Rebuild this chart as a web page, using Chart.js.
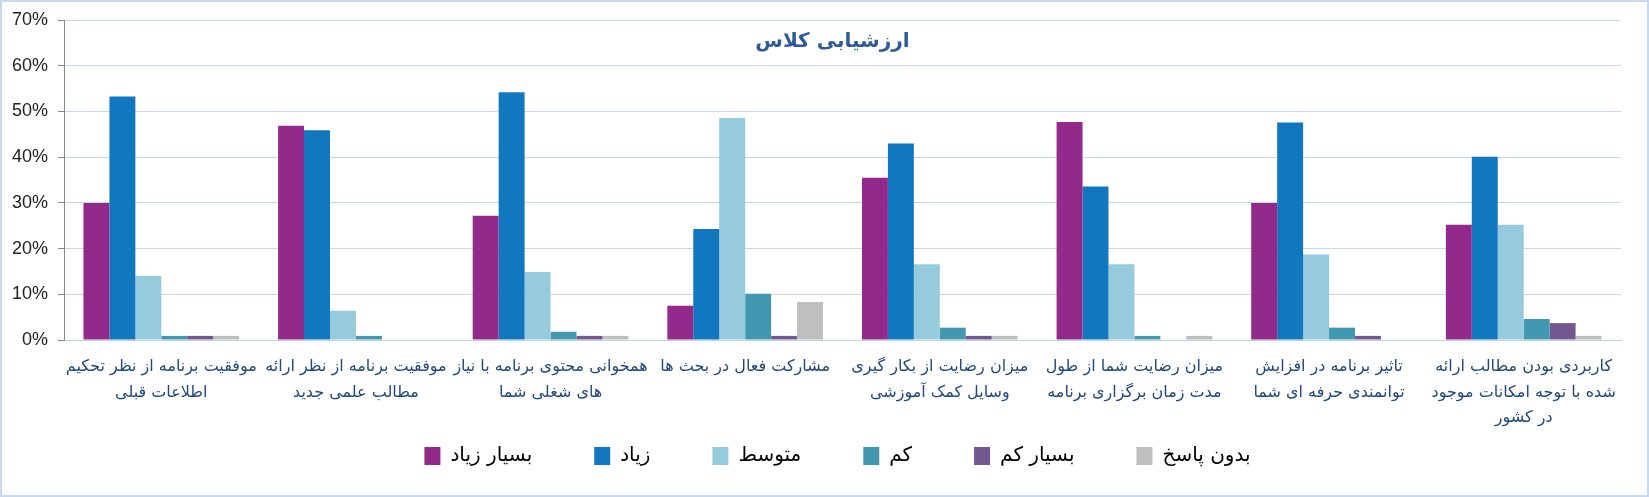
<!DOCTYPE html>
<html>
<head>
<meta charset="utf-8">
<script src="https://cdn.jsdelivr.net/npm/chart.js@4/dist/chart.umd.min.js"></script>
<style>
  html, body { margin: 0; padding: 0; background: #fff; }
  #wrap { width: 1649px; height: 497px; box-sizing: border-box; border: 2px solid #c6d9f1; background: #fff; }
  #wrap canvas { display: block; }
</style>
</head>
<body>
<div id="wrap"><canvas id="c" width="1645" height="493"></canvas></div>
<script>
const chartTitle = 'ارزشیابی کلاس';
const categories = [
  ['موفقیت برنامه از نظر تحکیم', 'اطلاعات قبلی'],
  ['موفقیت برنامه از نظر ارائه', 'مطالب علمی جدید'],
  ['همخوانی محتوی برنامه با نیاز', 'های شغلی شما'],
  ['مشارکت فعال در بحث ها'],
  ['میزان رضایت از بکار گیری', 'وسایل کمک آموزشی'],
  ['میزان رضایت شما از طول', 'مدت زمان برگزاری برنامه'],
  ['تاثیر برنامه در افزایش', 'توانمندی حرفه ای شما'],
  ['کاربردی بودن مطالب ارائه', 'شده با توجه امکانات موجود', 'در کشور']
];
const seriesNames = ['بسیار زیاد', 'زیاد', 'متوسط', 'کم', 'بسیار کم', 'بدون پاسخ'];
const veryHigh = [30.0, 46.9, 27.2, 7.5, 35.5, 47.7, 30.0, 25.2];
const high     = [53.3, 45.9, 54.2, 24.3, 43.0, 33.6, 47.6, 40.1];
const medium   = [14.0, 6.4, 14.9, 48.6, 16.6, 16.6, 18.7, 25.2];
const low      = [0.9, 0.9, 1.8, 10.1, 2.7, 0.9, 2.7, 4.6];
const veryLow  = [0.9, 0, 0.9, 0.9, 0.9, 0, 0.9, 3.7];
const noAnswer = [0.9, 0, 0.9, 8.3, 0.9, 0.9, 0, 0.9];
const yTicks = [0, 10, 20, 30, 40, 50, 60, 70];

const seriesData = [veryHigh, high, medium, low, veryLow, noAnswer];
const colors = ['#912a8a', '#1177bf', '#95cbdc', '#4298b0', '#725891', '#bfbfbf'];

const titlePlugin = {
  id: 'innerTitle',
  afterDraw(chart) {
    const { ctx, chartArea } = chart;
    ctx.save();
    ctx.font = 'bold 20px "DejaVu Sans", sans-serif';
    ctx.fillStyle = '#2f5b96';
    ctx.textAlign = 'center';
    ctx.textBaseline = 'middle';
    ctx.direction = 'rtl';
    ctx.fillText(chartTitle, (chartArea.left + chartArea.right) / 2 - 10, 40);
    ctx.restore();
  }
};

const legendPad = 62;
const legendBoxH = 38;
const legendShift = 26;

// keep wide horizontal spacing between legend items without a tall legend box
const legendPatch = {
  id: 'legendPatch',
  beforeLayout(chart) {
    const lg = chart.legend;
    if (!lg || lg._patched) return;
    const fit = lg.fit;
    lg.fit = function () { fit.call(this); this.height = legendBoxH; };
    const draw = lg.draw;
    lg.draw = function () {
      const t = this.top, l = this.left, r = this.right;
      this.top = t - (legendPad - 10);
      this.left = l + legendShift;
      this.right = r + legendShift;
      draw.call(this);
      this.top = t; this.left = l; this.right = r;
    };
    lg._patched = true;
  }
};

new Chart(document.getElementById('c'), {
  type: 'bar',
  data: {
    labels: categories,
    datasets: seriesNames.map((n, i) => ({
      label: n,
      data: seriesData[i],
      backgroundColor: colors[i],
      borderWidth: 0,
      categoryPercentage: 0.8,
      barPercentage: 1.0
    }))
  },
  options: {
    responsive: false,
    animation: false,
    devicePixelRatio: 1,
    layout: { padding: { top: 0, right: 26, bottom: 21, left: 0 } },
    plugins: {
      title: { display: false },
      tooltip: { enabled: false },
      legend: {
        position: 'bottom',
        rtl: false,
        labels: {
          boxWidth: 16,
          boxHeight: 18,
          padding: legendPad,
          color: '#000',
          font: { size: 20, family: '"DejaVu Sans", sans-serif' },
          generateLabels(chart) {
            return chart.data.datasets.map((ds, i) => ({
              text: ds.label,
              fillStyle: ds.backgroundColor,
              strokeStyle: ds.backgroundColor,
              lineWidth: 0,
              datasetIndex: i,
              hidden: false
            }));
          }
        }
      }
    },
    scales: {
      x: {
        grid: { display: false, drawTicks: false },
        border: { display: true, color: '#bcd4ee', width: 1 },
        ticks: {
          padding: 14,
          color: '#1f497d',
          maxRotation: 0,
          autoSkip: false,
          font: { size: 16, family: '"DejaVu Sans", sans-serif', lineHeight: 1.6 }
        },
        afterFit(scale) { scale.height = 96; }
      },
      y: {
        min: 0,
        max: 70,
        afterBuildTicks(scale) { scale.ticks = yTicks.map(v => ({ value: v })); },
        grid: { color: '#c3d7ee', lineWidth: 1, tickLength: 6, tickColor: '#868686' },
        border: { display: true, color: '#868686', width: 1 },
        ticks: {
          padding: 10,
          color: '#222',
          font: { size: 18, family: '"Liberation Sans", sans-serif', lineHeight: 0.9 },
          callback: v => v + '%'
        },
        afterFit(scale) { scale.width = 62; }
      }
    }
  },
  plugins: [titlePlugin, legendPatch]
});
</script>
</body>
</html>
